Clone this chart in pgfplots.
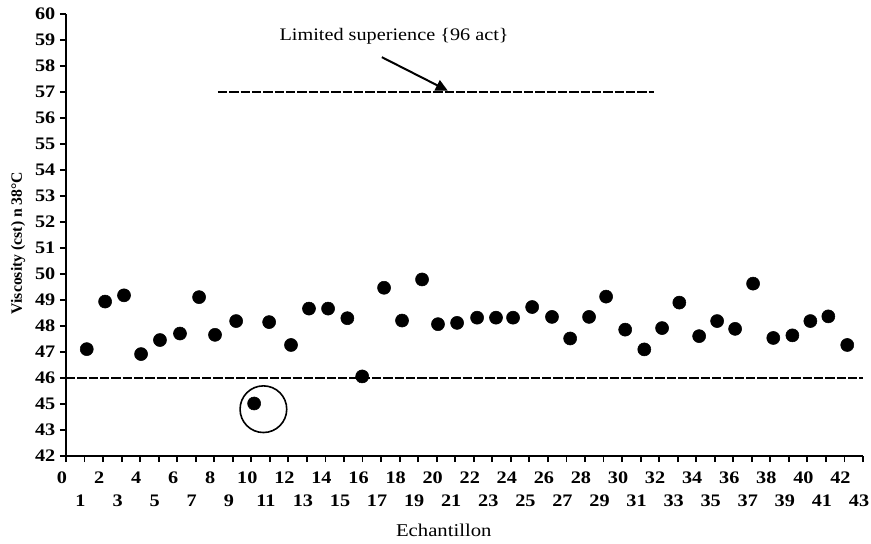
\documentclass[border=0pt]{standalone}
\usepackage{fontspec}
\setmainfont{Liberation Serif}[FakeStretch=1.15]
\newfontfamily\plainserif{Liberation Serif}
\usepackage{pgfplots}
\pgfplotsset{compat=1.18}
\usetikzlibrary{arrows.meta}
\pgfplotstableread{
x y
1.12 47.11
2.11 48.94
3.13 49.18
4.05 46.92
5.07 47.46
6.15 47.71
7.18 49.11
8.04 47.66
9.18 48.19
10.15 45.02
10.96 48.15
12.14 47.27
13.11 48.67
14.14 48.67
15.18 48.30
15.98 46.06
17.16 49.47
18.13 48.21
19.21 49.79
20.07 48.07
21.10 48.12
22.18 48.32
23.20 48.32
24.12 48.32
25.15 48.73
26.22 48.35
27.20 47.52
28.22 48.35
29.14 49.13
30.17 47.86
31.20 47.10
32.16 47.92
33.09 48.90
34.16 47.61
35.13 48.19
36.10 47.89
37.07 49.63
38.16 47.54
39.19 47.64
40.16 48.19
41.13 48.37
42.15 47.27
}\datatable
\begin{document}
\begin{tikzpicture}
\path[use as bounding box] (0,0) rectangle (653.25pt,407.25pt);
\begin{axis}[
  at={(49.5pt,65.25pt)}, anchor=south west,
  scale only axis, width=597.75pt, height=331.5pt,
  xmin=0, xmax=43, ymin=43, ymax=60,
  clip=false,
  axis x line*=bottom, axis y line*=left,
  axis line style={line width=1.6pt, black},
  tick align=outside,
  major tick length=4.5pt,
  tick style={line width=1.4pt, black},
  xtick={0,2,...,42},
  extra x ticks={1,3,...,43},
  extra x tick style={xticklabel style={yshift=-17pt}},
  ytick={43,...,60},
  yticklabels={42,43,45,46,47,48,49,50,51,52,53,54,55,56,57,58,59,60},
  /pgf/number format/assume math mode=true,
  ticklabel style={font=\fontsize{13.2}{15}\selectfont\bfseries},
  xticklabel style={yshift=-4pt, xshift=-3pt},
  xlabel={Echantillon},
  xlabel style={at={(axis description cs:0.474,-0.1674)}, anchor=center, font=\fontsize{13.5}{15}\selectfont},
  ylabel={Viscosity (cst) n 38°C},
  ylabel style={at={(axis description cs:-0.0602,0.482)}, anchor=center, rotate=0, font=\plainserif\fontsize{11.8}{13}\selectfont\bfseries},
]
\addplot[black, line width=1.5pt, dash pattern=on 7pt off 1.5pt] coordinates {(0,46) (43,46)};
\addplot[black, line width=1.5pt, dash pattern=on 7pt off 1.5pt] coordinates {(8.2,57) (31.7,57)};
\addplot[only marks, mark=*, mark size=4.9pt, black] table[x=x, y=y] {\datatable};
\addplot[only marks, mark=o, mark size=17.5pt, black, mark options={line width=1.2pt}] coordinates {(10.65,44.8)};
\draw[line width=1.5pt, -{Triangle[length=9pt,width=8.5pt]}] (axis cs:17.04,58.34) -- (axis cs:20.6,57.05);
\node[font=\fontsize{13.2}{15}\selectfont] at (axis cs:17.7,59.13) {Limited superience \{96 act\}};
\end{axis}
\end{tikzpicture}
\end{document}
